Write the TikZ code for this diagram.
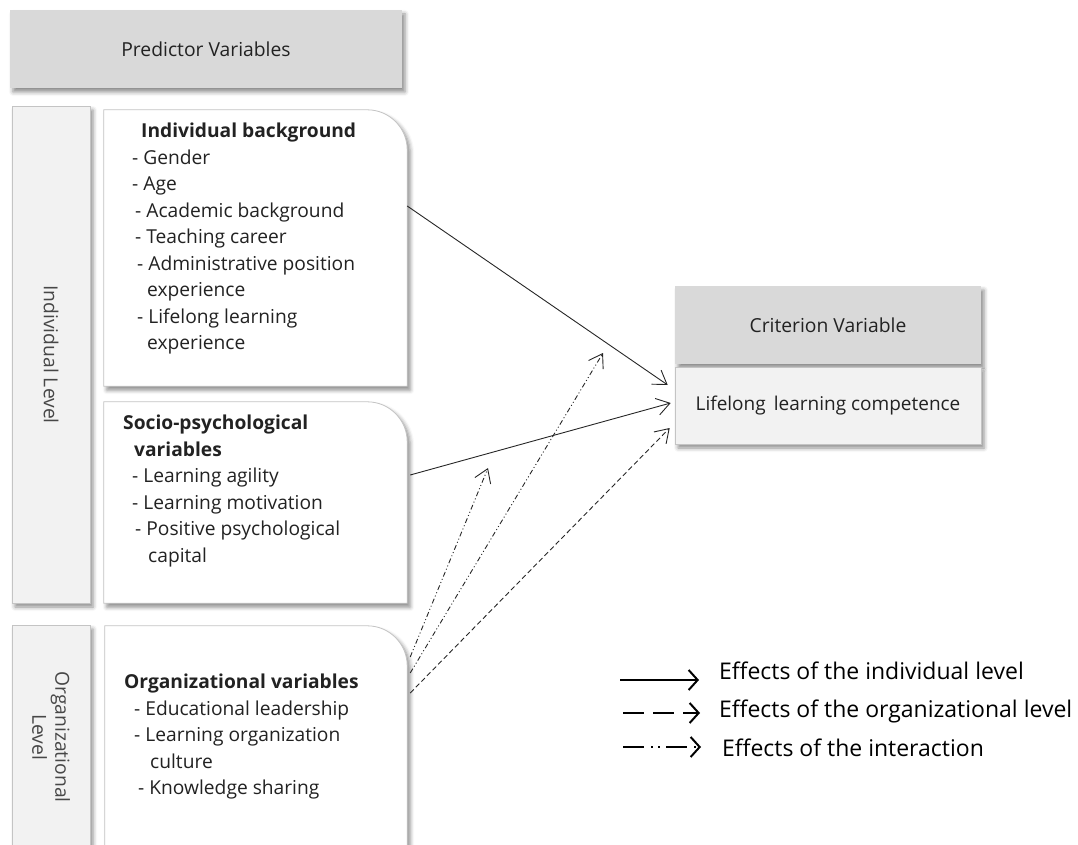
\documentclass[tikz,border=0pt]{standalone}
\usepackage{fontspec}
\setmainfont{Open Sans}
\usetikzlibrary{arrows.meta,shadows.blur}
\definecolor{hdrgray}{HTML}{D9D9D9}
\definecolor{palegray}{HTML}{F2F2F2}
\definecolor{edgegray}{HTML}{C4C4C4}
\definecolor{inkgray}{HTML}{222222}
\begin{document}
\begin{tikzpicture}[x=1pt,y=1pt,
  every node/.style={text=inkgray},
  shd/.style={blur shadow={shadow xshift=3pt,shadow yshift=-4pt,shadow blur radius=4pt,shadow opacity=45}},
  hdrbox/.style={shape=rectangle,fill=hdrgray,shd,font=\fontsize{19.3}{23}\selectfont,inner sep=0pt},
  lightbox/.style={shape=rectangle,fill=palegray,draw=edgegray,line width=0.6pt,shd,font=\fontsize{19}{23}\selectfont,inner sep=0pt},
  levelbar/.style={shape=rectangle,fill=palegray,draw=edgegray,line width=0.6pt,shd,rotate=-90,font=\fontsize{19.3}{23}\selectfont,align=center,text=black!72,inner sep=0pt},
  boxholder/.style={shape=rectangle,draw=none,inner sep=0pt},
  cornerbox/.style={fill=white,draw=edgegray,line width=0.8pt,shd},
  boxtext/.style={anchor=north west,align=left,inner sep=0pt,font=\fontsize{19.2}{26.5}\selectfont},
  eff/.style={draw=black!85,line width=0.9pt,-{Straight Barb[length=13pt,width=17pt]}},
  efforg/.style={eff,dash pattern=on 5pt off 3pt},
  effint/.style={eff,dash pattern=on 5pt off 2.5pt on 1pt off 2.5pt on 1pt off 2.5pt},
  legtext/.style={anchor=west,inner sep=0pt,font=\fontsize{23}{27}\selectfont,text=black},
  leg/.style={draw=black,line width=2pt,-{Straight Barb[length=9pt,width=20pt]}},
  legorg/.style={leg,dash pattern=on 21pt off 9pt},
  legint/.style={leg,dash pattern=on 21pt off 7pt on 2pt off 5pt on 2pt off 6pt}
]
\useasboundingbox (0,0) rectangle (1078,-845);
\clip (0,0) rectangle (1078,-845);

% header
\node[hdrbox,minimum width=392pt,minimum height=78pt] (pv) at (206,-49) {Predictor Variables};

% level bars
\node[levelbar,minimum width=497pt,minimum height=78pt] (il) at (51,-354.5) {Individual Level};
\node[levelbar,minimum width=224pt,minimum height=78pt] (ol) at (51,-737) {Organizational\\Level};

% individual background box
\node[boxholder,minimum width=303pt,minimum height=276pt] (ib) at (255.5,-248) {};
\path[cornerbox] (ib.south west) -- (ib.north west) -- ([xshift=-40pt]ib.north east)
  arc[start angle=90,end angle=0,radius=40pt] -- (ib.south east) -- cycle;
\node[boxtext] (ibt) at (132,-123) {\hspace*{9pt}\textbf{Individual background}\\
- Gender\\
- Age\\
\hspace*{3pt}- Academic background\\
\hspace*{3pt}- Teaching career\\
\hspace*{5pt}- Administrative position\\
\hspace*{15pt}experience\\
\hspace*{5pt}- Lifelong learning\\
\hspace*{15pt}experience};

% socio-psychological box
\node[boxholder,minimum width=303pt,minimum height=201pt] (sp) at (255.5,-502.5) {};
\path[cornerbox] (sp.south west) -- (sp.north west) -- ([xshift=-40pt]sp.north east)
  arc[start angle=90,end angle=0,radius=40pt] -- (sp.south east) -- cycle;
\node[boxtext] (spt) at (123,-415) {\textbf{Socio-psychological}\\
\hspace*{11pt}\textbf{variables}\\
\hspace*{9pt}- Learning agility\\
\hspace*{9pt}- Learning motivation\\
\hspace*{12pt}- Positive psychological\\
\hspace*{25pt}capital};

% organizational box
\node[boxholder,minimum width=302pt,minimum height=234pt] (ov) at (256,-743) {};
\path[cornerbox] (ov.south west) -- (ov.north west) -- ([xshift=-40pt]ov.north east)
  arc[start angle=90,end angle=0,radius=40pt] -- (ov.south east) -- cycle;
\node[boxtext] (ovt) at (124,-674) {\textbf{Organizational variables}\\
\hspace*{10pt}- Educational leadership\\
\hspace*{10pt}- Learning organization\\
\hspace*{26pt}culture\\
\hspace*{14pt}- Knowledge sharing};

% criterion
\node[hdrbox,minimum width=306pt,minimum height=78pt] (cv) at (828,-325) {Criterion Variable};
\node[lightbox,minimum width=306pt,minimum height=77pt] (lc) at (828,-405.5) {Lifelong\, learning competence};

% connectors
\coordinate (i1) at (488,-468);
\coordinate (i2) at (603,-353);
\draw[eff] ([yshift=42pt]ib.east) -- ([xshift=-7pt,yshift=20.5pt]lc.west);
\draw[eff] ([xshift=3pt,yshift=27.5pt]sp.east) -- ([xshift=-4pt,yshift=2.5pt]lc.west);
\draw[effint] ([xshift=3pt,yshift=86pt]ov.east) -- (i1);
\draw[effint] ([xshift=3pt,yshift=70pt]ov.east) -- (i2);
\draw[efforg] ([xshift=3pt,yshift=50pt]ov.east) -- ([xshift=-5pt,yshift=-22.5pt]lc.west);

% legend
\node[legtext] (l1) at (719,-671) {Effects of the individual level};
\node[legtext] (l2) at (719,-711) {Effects of the organizational level};
\node[legtext] (l3) at (722,-748) {Effects of the interaction};
\coordinate (k1) at (620,-680); \coordinate (k1e) at (699,-680);
\coordinate (k2) at (623,-713); \coordinate (k2e) at (700,-713);
\coordinate (k3) at (623,-747); \coordinate (k3e) at (701,-747);
\draw[leg] (k1) -- (k1e);
\draw[legorg] (k2) -- (k2e);
\draw[legint] (k3) -- (k3e);
\end{tikzpicture}
\end{document}
